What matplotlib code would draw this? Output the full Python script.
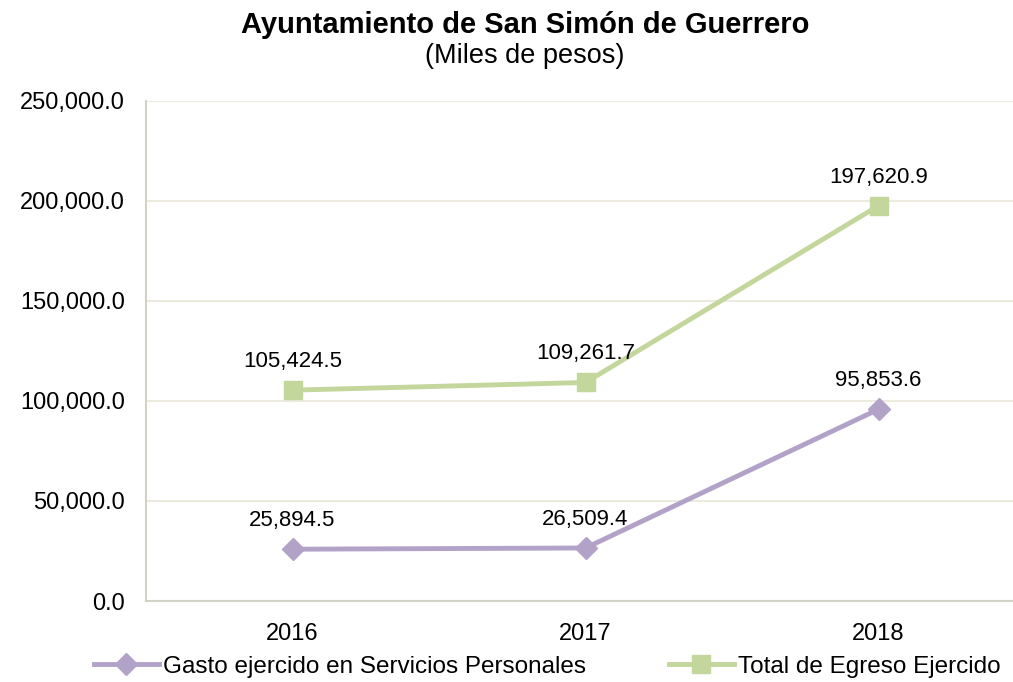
import matplotlib.pyplot as plt
from matplotlib.ticker import FuncFormatter

years = ["2016", "2017", "2018"]
gasto_personales = [25894.5, 26509.4, 95853.6]
total_egreso = [105424.5, 109261.7, 197620.9]
series_names = ["Gasto ejercido en Servicios Personales", "Total de Egreso Ejercido"]

plt.rcParams["font.family"] = ["Liberation Sans", "DejaVu Sans"]

PURPLE = "#B3A2C7"
GREEN = "#C3D69B"
GRID = "#EDEBE0"
SPINE = "#D3D3C5"

fig = plt.figure(figsize=(10.13, 6.82), dpi=100)
ax = fig.add_axes([146 / 1013, 1 - 601 / 682, 879 / 1013, 500 / 682])

x = range(len(years))
l1, = ax.plot(x, gasto_personales, color=PURPLE, lw=3.5, marker="D", ms=11,
              label=series_names[0])
l2, = ax.plot(x, total_egreso, color=GREEN, lw=3.5, marker="s", ms=13,
              label=series_names[1])

for xi, v in zip(x, gasto_personales):
    ax.annotate(f"{v:,.1f}", (xi, v), xytext=(0, 13), textcoords="offset points",
                ha="center", va="bottom", fontsize=16)
for xi, v in zip(x, total_egreso):
    ax.annotate(f"{v:,.1f}", (xi, v), xytext=(0, 13), textcoords="offset points",
                ha="center", va="bottom", fontsize=16)

ax.set_xlim(-0.5, 2.5)
ax.set_ylim(0, 250000)
ax.set_yticks(range(0, 250001, 50000))
ax.yaxis.set_major_formatter(FuncFormatter(lambda v, p: f"{v:,.1f}"))
ax.set_xticks(list(x))
ax.set_xticklabels(years)
ax.tick_params(axis="both", length=0, labelsize=17)
ax.tick_params(axis="x", pad=16)
ax.tick_params(axis="y", pad=15)
ax.grid(axis="y", color=GRID, lw=1.5)
ax.set_axisbelow(True)
for s in ("top", "right"):
    ax.spines[s].set_visible(False)
for s in ("left", "bottom"):
    ax.spines[s].set_color(SPINE)
    ax.spines[s].set_linewidth(1.5)

fig.text(0.518, 0.963, "Ayuntamiento de San Simón de Guerrero", ha="center",
         va="center", fontsize=21, fontweight="bold")
fig.text(0.518, 0.918, "(Miles de pesos)", ha="center", va="center", fontsize=19.5)

fig.legend(handles=[l1, l2], loc="center", bbox_to_anchor=(0.54, 0.022),
           ncol=2, frameon=False, handlelength=2.7,
           handletextpad=0.15, columnspacing=3.4,
           prop={"family": ["Liberation Sans", "DejaVu Sans"], "size": 17.5})

fig.savefig("out.png", dpi=100)
